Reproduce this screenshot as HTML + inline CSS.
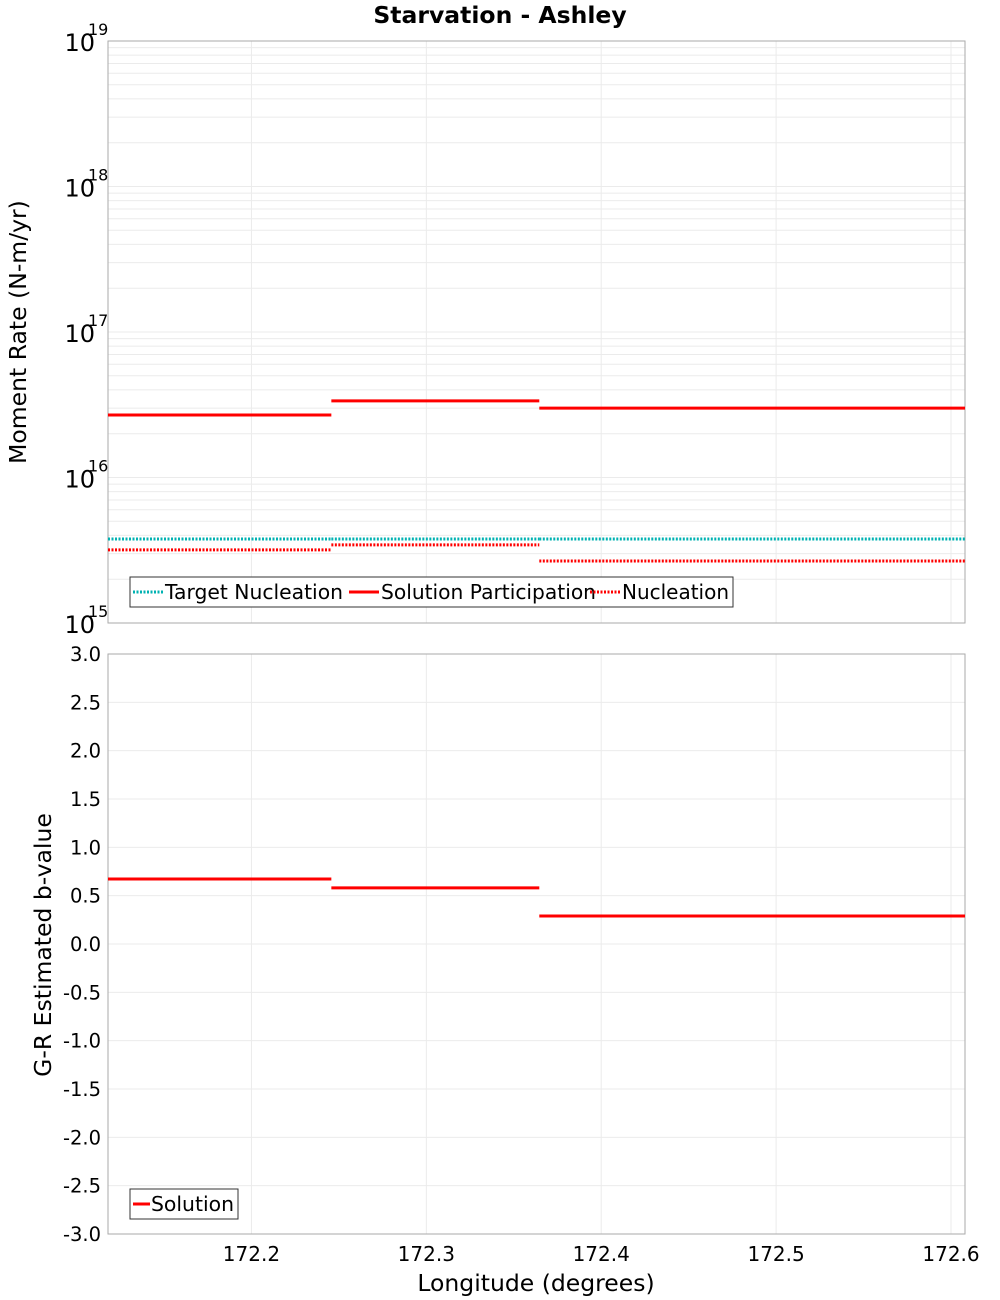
<!DOCTYPE html>
<html><head><meta charset="utf-8"><style>
body{margin:0;background:#fff;}
svg{display:block;font-family:"DejaVu Sans","Liberation Sans",sans-serif;}
</style></head><body>
<svg id="c" width="1000" height="1300">
<text x="500" y="23" text-anchor="middle" font-weight="bold" font-size="23.5">Starvation - Ashley</text>
<text transform="translate(26,332) rotate(-90)" text-anchor="middle" font-size="23.5">Moment Rate (N-m/yr)</text>
<text transform="translate(51,945) rotate(-90)" text-anchor="middle" font-size="23.5">G-R Estimated b-value</text>
<text x="536" y="1291" text-anchor="middle" font-size="23.5">Longitude (degrees)</text>
</svg>
<script>
const xTicks=[172.2,172.3,172.4,172.5,172.6];
const segStarts=[172.118,172.2457,172.3646];
const segEnds=[172.2457,172.3646,172.608];
const participation=[2.69e16,3.36e16,3.0e16];
const nucleation=[3.18e15,3.44e15,2.67e15];
const targetNucleation=[3.78e15,3.78e15,3.78e15];
const bValues=[0.672,0.58,0.29];
const bTicks=[3.0,2.5,2.0,1.5,1.0,0.5,0.0,-0.5,-1.0,-1.5,-2.0,-2.5,-3.0];
const decades=[15,16,17,18,19];

const svg=document.getElementById('c');
const NS='http://www.w3.org/2000/svg';
const L=108,R=965,T1=41,B1=623,T2=654,B2=1234;
const xMin=172.118,xMax=172.608;
const X=v=>L+(v-xMin)/(xMax-xMin)*(R-L);
const Y1=v=>B1-(Math.log10(v)-15)/4*(B1-T1);
const Y2=v=>T2+(3-v)/6*(B2-T2);
function el(t,a,txt){const e=document.createElementNS(NS,t);for(const k in a)e.setAttribute(k,a[k]);if(txt!=null)e.textContent=txt;svg.appendChild(e);return e;}

for(let d=15;d<19;d++)for(let m=1;m<10;m++){const y=Y1(m*Math.pow(10,d));
const g=el('line',{x1:L,x2:R,y1:y,y2:y,stroke:'#ebebeb','stroke-width':1});

}
for(const v of bTicks){const y=Y2(v);
const g=el('line',{x1:L,x2:R,y1:y,y2:y,stroke:'#ebebeb','stroke-width':1});

}
for(const v of xTicks){const x=X(v);
const g1=el('line',{x1:x,x2:x,y1:T1,y2:B1,stroke:'#ebebeb'});


const g2=el('line',{x1:x,x2:x,y1:T2,y2:B2,stroke:'#ebebeb'});


const t=el('text',{x:x,y:1261,'text-anchor':'middle','font-size':20},v.toFixed(1));

}
for(const d of decades){const y=Y1(Math.pow(10,d));
const t=el('text',{x:95,y:y+10,'text-anchor':'end','font-size':24},'10');


const s=el('text',{x:88,y:y-6,'font-size':16},String(d));

}
for(const v of bTicks){const t=el('text',{x:101,y:Y2(v)+7,'text-anchor':'end','font-size':19.5},v.toFixed(1));

}
const f1=el('rect',{x:L,y:T1,width:R-L,height:B1-T1,fill:'none',stroke:'#aaa'});


const f2=el('rect',{x:L,y:T2,width:R-L,height:B2-T2,fill:'none',stroke:'#aaa'});


function seg(vals,Y,color,dash,name){for(let i=0;i<vals.length;i++){const y=Y(vals[i]);
const a={x1:X(segStarts[i]),x2:X(segEnds[i]),y1:y,y2:y,stroke:color,'stroke-width':3};if(dash)a['stroke-dasharray']='2,1.5';
const e=el('line',a);

}}
seg(targetNucleation,Y1,'#00b2b2',true,'target-nucleation-segment');
seg(participation,Y1,'#ff0000',false,'solution-participation-segment');
seg(nucleation,Y1,'#ff0000',true,'nucleation-segment');
seg(bValues,Y2,'#ff0000',false,'b-value-segment');
const lg=el('rect',{x:130,y:577,width:603,height:30,fill:'#fff',stroke:'#333'});


const items=[[133,'#00b2b2',true,'Target Nucleation',178],[349,'#ff0000',false,'Solution Participation',215],[590,'#ff0000',true,'Nucleation',107]];
for(const [x,c,d,l,w] of items){const a={x1:x,x2:x+30,y1:592,y2:592,stroke:c,'stroke-width':3};if(d)a['stroke-dasharray']='2,1.5';
const s=el('line',a);


const t=el('text',{x:x+32,y:599,'font-size':20.4,textLength:w,lengthAdjust:'spacingAndGlyphs'},l);

}
const lg2=el('rect',{x:130,y:1189,width:108,height:30,fill:'#fff',stroke:'#333'});


const s2=el('line',{x1:133,x2:150,y1:1204,y2:1204,stroke:'#ff0000','stroke-width':3});


const t2=el('text',{x:151,y:1211,'font-size':20.4,textLength:83,lengthAdjust:'spacingAndGlyphs'},'Solution');


</script>
</body></html>
